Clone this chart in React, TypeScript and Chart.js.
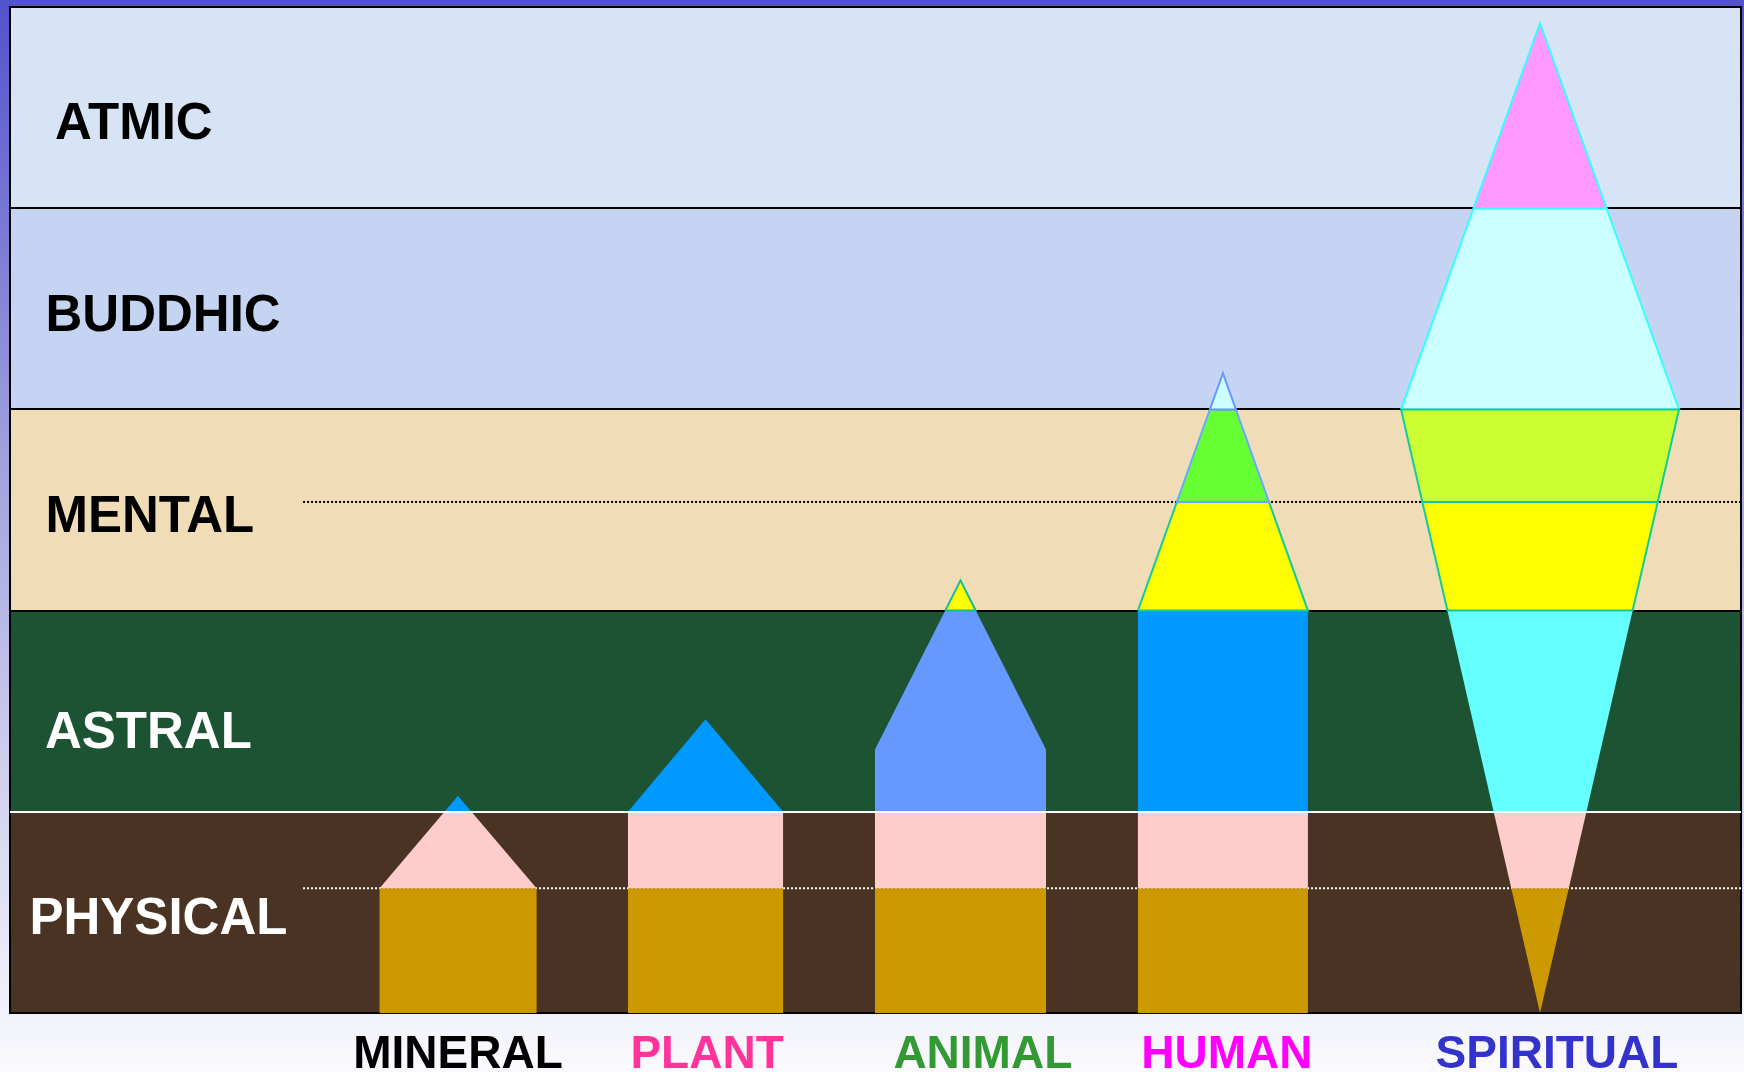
import React, { useEffect, useRef } from 'react';
import { Chart, registerables } from 'chart.js';

Chart.register(...registerables);

// ---- Planes (y axis: 0 = bottom of PHYSICAL, 5 = top of ATMIC) ----
const levels = ['PHYSICAL', 'ASTRAL', 'MENTAL', 'BUDDHIC', 'ATMIC'];
const levelBounds = [0, 1, 2, 3, 4, 5];
const levelFills = ['#4a3322', '#1c5332', '#f0ddb8', '#c6d4f3', '#d7e4f6'];
const levelTextColors = ['#ffffff', '#ffffff', '#000000', '#000000', '#000000'];
const levelLabelY = [0.482, 1.407, 2.48, 3.479, 4.433];

// sub-plane dotted dividers
const mentalDivider = [[16.93, 2.54], [100, 2.54]];
const physicalDivider = [[16.93, 0.62], [100, 0.62]];

// ---- Kingdoms (x axis: 0–100 across the frame) ----
const categories = ['MINERAL', 'PLANT', 'ANIMAL', 'HUMAN', 'SPIRITUAL'];
const categoryColors = ['#000000', '#ff3399', '#339933', '#ff00ff', '#3333cc'];
const categoryLabelX = [25.88, 40.27, 56.2, 70.3, 89.37];

const GOLD = '#cc9900';
const PINK = '#ffcccc';
const BLUE = '#0099ff';

const mineralSections = [
  [[21.35, 0], [30.42, 0], [30.42, 0.62], [21.35, 0.62]],
  [[21.35, 0.62], [30.42, 0.62], [26.66, 1], [25.1, 1]],
  [[25.1, 1], [26.66, 1], [25.88, 1.08]],
];
const mineralFills = [GOLD, PINK, BLUE];
const mineralEdges = [null, null, null];

const plantSections = [
  [[35.7, 0], [44.66, 0], [44.66, 0.62], [35.7, 0.62]],
  [[35.7, 0.62], [44.66, 0.62], [44.66, 1], [35.7, 1]],
  [[35.7, 1], [44.66, 1], [40.18, 1.46]],
];
const plantFills = [GOLD, PINK, BLUE];
const plantEdges = [null, null, null];

const animalSections = [
  [[49.97, 0], [59.85, 0], [59.85, 0.62], [49.97, 0.62]],
  [[49.97, 0.62], [59.85, 0.62], [59.85, 1], [49.97, 1]],
  [[49.97, 1], [59.85, 1], [59.85, 1.31], [55.79, 2], [54.03, 2], [49.97, 1.31]],
  [[54.03, 2], [55.79, 2], [54.91, 2.15]],
];
const animalFills = [GOLD, PINK, '#6699ff', '#ffff00'];
const animalEdges = [null, null, null, '#11bb99'];

const humanSections = [
  [[65.16, 0], [74.98, 0], [74.98, 0.62], [65.16, 0.62]],
  [[65.16, 0.62], [74.98, 0.62], [74.98, 1], [65.16, 1]],
  [[65.16, 1], [74.98, 1], [74.98, 2], [65.16, 2]],
  [[65.16, 2], [74.98, 2], [72.73, 2.54], [67.41, 2.54]],
  [[67.41, 2.54], [72.73, 2.54], [70.82, 3], [69.32, 3]],
  [[69.32, 3], [70.82, 3], [70.07, 3.18]],
];
const humanFills = [GOLD, PINK, BLUE, '#ffff00', '#66ff33', '#ccffff'];
const humanEdges = [null, null, null, '#11cc99', '#66aaff', '#6699ff'];

const spiritualSections = [
  [[86.73, 0.62], [90.05, 0.62], [88.39, 0]],
  [[85.71, 1], [91.07, 1], [90.05, 0.62], [86.73, 0.62]],
  [[83.04, 2], [93.74, 2], [91.07, 1], [85.71, 1]],
  [[80.36, 3], [96.42, 3], [92.23, 4], [84.55, 4]],
  [[84.55, 4], [92.23, 4], [88.39, 4.92]],
  [[81.59, 2.54], [95.19, 2.54], [93.74, 2], [83.04, 2]],
  [[80.36, 3], [96.42, 3], [95.19, 2.54], [81.59, 2.54]],
];
const spiritualFills = [GOLD, PINK, '#66ffff', '#ccffff', '#ff99ff', '#ffff00', '#ccff33'];
const spiritualEdges = [null, null, null, '#33ffff', '#33ffff', '#11cc99', '#11cc99'];

const FONT = '"Liberation Sans", Arial, sans-serif';

export default function App() {
  const ref = useRef<HTMLCanvasElement>(null);

  useEffect(() => {
    document.body.style.margin = '0';
    const canvas = ref.current!;

    const groups: [number[][][], string[], (string | null)[]][] = [
      [mineralSections, mineralFills, mineralEdges],
      [plantSections, plantFills, plantEdges],
      [animalSections, animalFills, animalEdges],
      [humanSections, humanFills, humanEdges],
      [spiritualSections, spiritualFills, spiritualEdges],
    ];

    const datasets: any[] = [];
    const divider = (pts: number[][], color: string) => ({
      data: pts.map(([x, y]) => ({ x, y })),
      showLine: true,
      fill: false,
      borderColor: color,
      borderWidth: 2,
      borderDash: [2, 2],
      pointRadius: 0,
      pointHoverRadius: 0,
      order: 1000,
    });
    datasets.push(divider(mentalDivider, '#000000'));
    datasets.push(divider(physicalDivider, '#ffffff'));

    let k = 0;
    groups.forEach(([sections, fills, edges]) => {
      sections.forEach((pts, i) => {
        const edge = edges[i];
        datasets.push({
          data: pts.concat([pts[0]]).map(([x, y]) => ({ x, y })),
          showLine: true,
          fill: 'shape',
          backgroundColor: fills[i],
          borderColor: edge || 'rgba(0,0,0,0)',
          borderWidth: edge ? 2 : 0,
          borderJoinStyle: 'miter',
          pointRadius: 0,
          pointHoverRadius: 0,
          tension: 0,
          order: 500 - k,
        });
        k++;
      });
    });

    const backdrop = {
      id: 'backdrop',
      beforeDraw(chart: any) {
        const { ctx, width, height } = chart;
        const g = ctx.createLinearGradient(0, 0, 0, height);
        g.addColorStop(0, '#5252cc');
        g.addColorStop(0.4, '#9c9cdc');
        g.addColorStop(0.75, '#d4d4f0');
        g.addColorStop(1, '#fafafe');
        ctx.save();
        ctx.fillStyle = g;
        ctx.fillRect(0, 0, width, height);
        ctx.restore();
      },
      beforeDatasetsDraw(chart: any) {
        const { ctx, chartArea: a, scales } = chart;
        const y = scales.y;
        ctx.save();
        levels.forEach((_, i) => {
          const top = y.getPixelForValue(levelBounds[i + 1]);
          const bottom = y.getPixelForValue(levelBounds[i]);
          ctx.fillStyle = levelFills[i];
          ctx.fillRect(a.left, top, a.right - a.left, bottom - top);
        });
        ctx.strokeStyle = '#000000';
        ctx.lineWidth = 2;
        [2, 3, 4].forEach((b) => {
          const py = Math.round(y.getPixelForValue(b));
          ctx.beginPath();
          ctx.moveTo(a.left, py);
          ctx.lineTo(a.right, py);
          ctx.stroke();
        });
        ctx.strokeRect(a.left, a.top, a.right - a.left, a.bottom - a.top);
        ctx.restore();
      },
      afterDatasetsDraw(chart: any) {
        const { ctx, chartArea: a, scales } = chart;
        const y = scales.y;
        ctx.save();
        ctx.strokeStyle = '#ffffff';
        ctx.lineWidth = 2;
        const py = Math.round(y.getPixelForValue(1));
        ctx.beginPath();
        ctx.moveTo(a.left, py);
        ctx.lineTo(a.right, py);
        ctx.stroke();
        const size = 51;
        ctx.font = `bold ${size}px ${FONT}`;
        ctx.textBaseline = 'alphabetic';
        ctx.textAlign = 'left';
        const offsets = [19.5, 35, 35.5, 35.5, 45];
        levels.forEach((name, i) => {
          ctx.fillStyle = levelTextColors[i];
          const cy = y.getPixelForValue(levelLabelY[i]);
          ctx.fillText(name, a.left + offsets[i], cy + 0.358 * size);
        });
        ctx.restore();
      },
    };

    const chart = new Chart(canvas, {
      type: 'scatter',
      data: { datasets },
      options: {
        animation: false,
        responsive: false,
        devicePixelRatio: 1,
        events: [],
        layout: { padding: { left: 10, right: 3, top: 7, bottom: 0 } },
        plugins: { legend: { display: false }, tooltip: { enabled: false } },
        scales: {
          x: {
            type: 'linear',
            min: 0,
            max: 100,
            grid: { display: false, drawTicks: false },
            border: { display: false },
            afterBuildTicks: (scale: any) => {
              scale.ticks = categoryLabelX.map((v) => ({ value: v }));
            },
            afterFit: (scale: any) => {
              scale.height = 59;
            },
            ticks: {
              autoSkip: false,
              maxRotation: 0,
              minRotation: 0,
              padding: 19.5,
              font: { family: FONT, size: 46, weight: 'bold', lineHeight: 1 },
              color: (c: any) => categoryColors[c.index] || '#000',
              callback: (_v: any, i: number) => categories[i],
            },
          },
          y: {
            type: 'linear',
            min: 0,
            max: 5,
            display: false,
          },
        },
      } as any,
      plugins: [backdrop],
    });

    return () => chart.destroy();
  }, []);

  return (
    <div style={{ position: 'absolute', left: 0, top: 0, width: 1744, height: 1072 }}>
      <canvas ref={ref} width={1744} height={1072} style={{ display: 'block', width: 1744, height: 1072 }} />
    </div>
  );
}
